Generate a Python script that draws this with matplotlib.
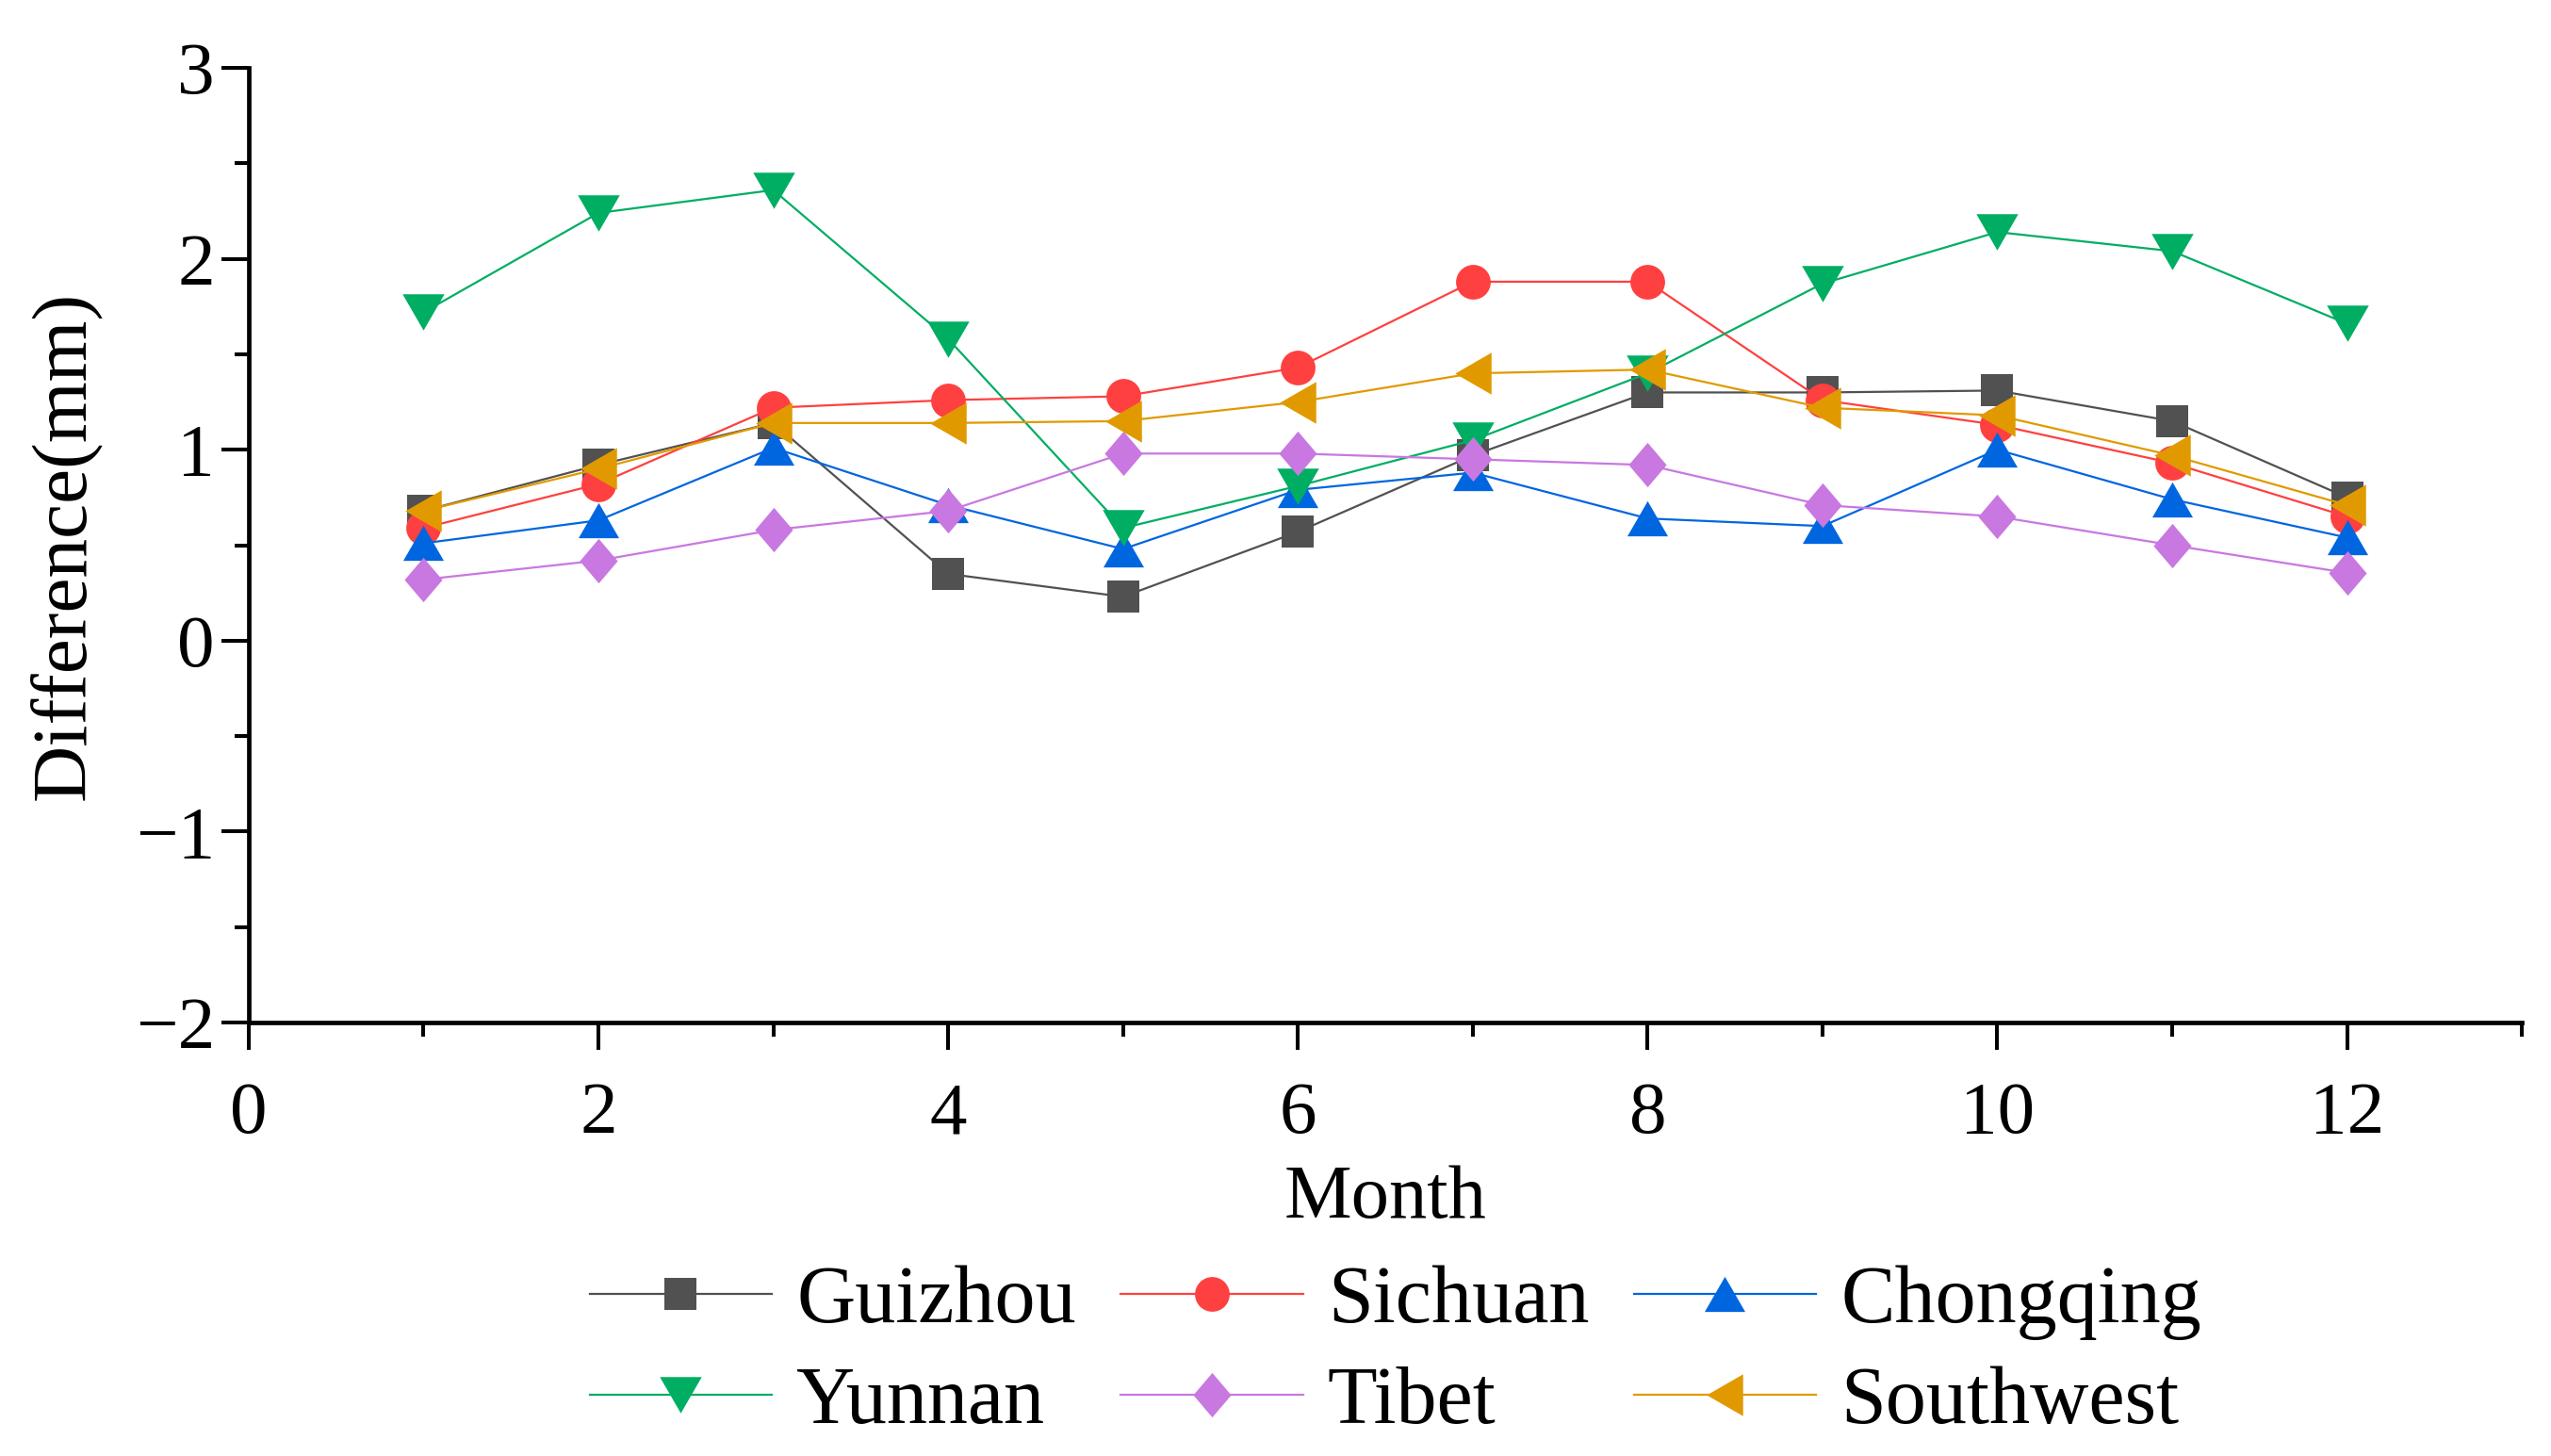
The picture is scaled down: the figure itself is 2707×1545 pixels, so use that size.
import matplotlib
matplotlib.use("Agg")
import matplotlib.pyplot as plt
from matplotlib.ticker import MultipleLocator

months = [1, 2, 3, 4, 5, 6, 7, 8, 9, 10, 11, 12]
guizhou = [0.68, 0.92, 1.14, 0.35, 0.23, 0.57, 0.97, 1.30, 1.30, 1.31, 1.15, 0.75]
sichuan = [0.59, 0.82, 1.22, 1.26, 1.28, 1.43, 1.88, 1.88, 1.26, 1.13, 0.93, 0.65]
chongqing = [0.51, 0.63, 1.01, 0.71, 0.48, 0.79, 0.88, 0.64, 0.60, 1.00, 0.74, 0.54]
yunnan = [1.72, 2.24, 2.36, 1.58, 0.59, 0.81, 1.05, 1.40, 1.87, 2.14, 2.04, 1.66]
tibet = [0.32, 0.42, 0.58, 0.68, 0.98, 0.98, 0.95, 0.92, 0.71, 0.65, 0.50, 0.355]
southwest = [0.68, 0.90, 1.14, 1.14, 1.15, 1.25, 1.40, 1.42, 1.22, 1.18, 0.97, 0.71]

names = ["Guizhou", "Sichuan", "Chongqing", "Yunnan", "Tibet", "Southwest"]
colors = ["#515151", "#FF4040", "#0066E0", "#00AE63", "#C878E0", "#E09A00"]

tri_up = [(0, 0.866), (-1, -0.866), (1, -0.866)]
tri_dn = [(0, -0.866), (-1, 0.866), (1, 0.866)]
tri_lf = [(-0.866, 0), (0.866, 1), (0.866, -1)]
diamond = [(0, 1), (0.85, 0), (0, -1), (-0.85, 0)]
markers = ["s", "o", tri_up, tri_dn, diamond, tri_lf]
msizes = [24, 26.5, 31, 32, 34, 32]

plt.rcParams['font.family'] = ['Liberation Serif', 'DejaVu Serif']
plt.rcParams['axes.unicode_minus'] = True

fig = plt.figure(figsize=(27.07, 15.45), dpi=100)
ax = fig.add_axes([0.0975, 0.2977, 0.8911, 0.6557])

series = [guizhou, sichuan, chongqing, yunnan, tibet, southwest]
lines = []
for vals, name, c, m, ms in zip(series, names, colors, markers, msizes):
    ln, = ax.plot(months, vals, color=c, marker=m, markersize=ms, linewidth=1.6,
                  markeredgewidth=0, label=name)
    lines.append(ln)

ax.set_xlim(0, 13)
ax.set_ylim(-2, 3)
ax.xaxis.set_major_locator(MultipleLocator(2))
ax.xaxis.set_minor_locator(MultipleLocator(1))
ax.yaxis.set_major_locator(MultipleLocator(1))
ax.yaxis.set_minor_locator(MultipleLocator(0.5))

for s in ["top", "right"]:
    ax.spines[s].set_visible(False)
for s in ["left", "bottom"]:
    ax.spines[s].set_linewidth(3.4)

ax.tick_params(which="major", direction="out", length=21, width=2.9, labelsize=57)
ax.tick_params(axis="x", which="major", pad=24)
ax.tick_params(axis="y", which="major", pad=5)
ax.tick_params(which="minor", direction="out", length=11, width=2.9)

ax.set_xlabel("Month", fontsize=58, labelpad=12)
ax.set_ylabel("Difference(mm)", fontsize=60, labelpad=26)

# row-wise legend order: reorder for column-major filling
order = [0, 3, 1, 4, 2, 5]
fig.legend([lines[i] for i in order], [names[i] for i in order],
           loc="center", bbox_to_anchor=(0.547, 0.0705), ncol=3, frameon=False,
           fontsize=62, handlelength=2.25, handletextpad=0.3,
           columnspacing=0.55, labelspacing=0.32, markerscale=1.0)

fig.savefig("out.png", dpi=100)
